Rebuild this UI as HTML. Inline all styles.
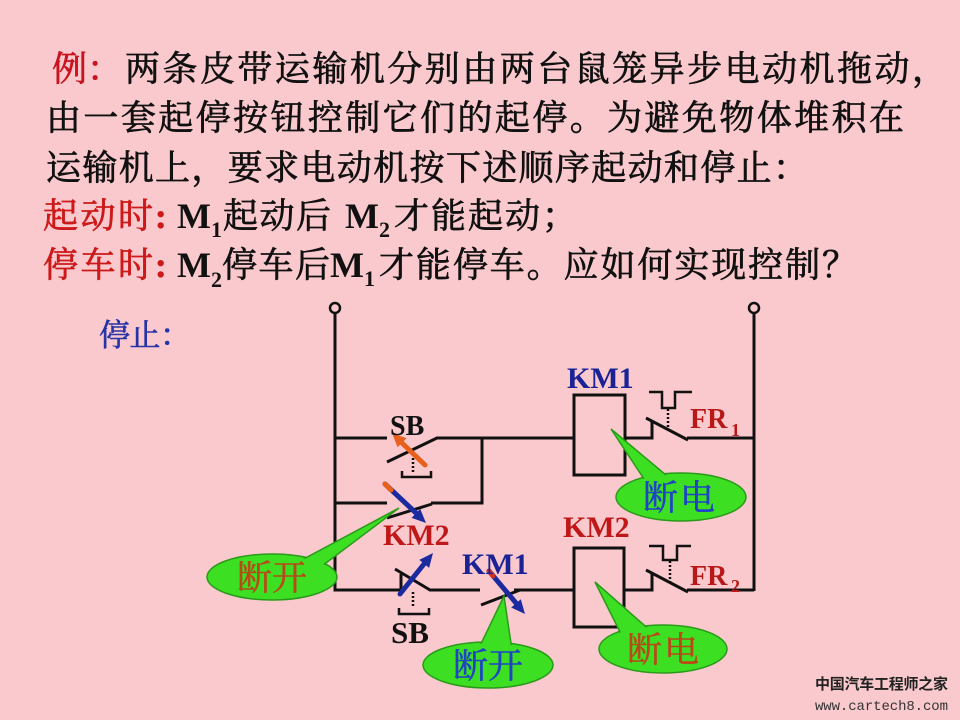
<!DOCTYPE html>
<html><head><meta charset="utf-8"><style>
html,body{margin:0;padding:0;background:#fac9cd;}
svg{display:block}
</style></head><body>
<svg width="960" height="720" viewBox="0 0 960 720" xmlns="http://www.w3.org/2000/svg">
<rect width="960" height="720" fill="#fac9cd"/>

<!-- Title text -->
<g font-family="'Liberation Serif','Noto Serif CJK SC',serif" font-size="35" fill="#111" stroke="#111" stroke-width="0.7">
  <text x="52" y="81" fill="#c8141e" stroke="#c8141e" textLength="70" lengthAdjust="spacing">例：</text>
  <text x="125" y="81" textLength="822" lengthAdjust="spacing">两条皮带运输机分别由两台鼠笼异步电动机拖动，</text>
  <text x="46" y="130" textLength="858" lengthAdjust="spacing">由一套起停按钮控制它们的起停。为避免物体堆积在</text>
  <text x="46" y="180" textLength="762" lengthAdjust="spacing">运输机上，要求电动机按下述顺序起动和停止：</text>

  <text x="43" y="228" fill="#cc1a1a" stroke="#cc1a1a" textLength="110" lengthAdjust="spacing">起动时</text>
  <text x="155" y="228" fill="#cc1a1a" stroke="#cc1a1a" font-weight="bold">:</text>
  <text x="177" y="228" font-size="36" stroke="none" font-weight="bold" font-family="'Liberation Serif',serif">M</text>
  <text x="211" y="237" font-size="22" stroke="none" font-weight="bold" font-family="'Liberation Serif',serif">1</text>
  <text x="223" y="228" textLength="108" lengthAdjust="spacing">起动后</text>
  <text x="345" y="228" font-size="36" stroke="none" font-weight="bold" font-family="'Liberation Serif',serif">M</text>
  <text x="379" y="237" font-size="22" stroke="none" font-weight="bold" font-family="'Liberation Serif',serif">2</text>
  <text x="394" y="228" textLength="183" lengthAdjust="spacing">才能起动；</text>

  <text x="43" y="277" fill="#cc1a1a" stroke="#cc1a1a" textLength="110" lengthAdjust="spacing">停车时</text>
  <text x="155" y="277" fill="#cc1a1a" stroke="#cc1a1a" font-weight="bold">:</text>
  <text x="177" y="277" font-size="36" stroke="none" font-weight="bold" font-family="'Liberation Serif',serif">M</text>
  <text x="211" y="287" font-size="22" stroke="none" font-weight="bold" font-family="'Liberation Serif',serif">2</text>
  <text x="222" y="277" textLength="108" lengthAdjust="spacing">停车后</text>
  <text x="330" y="277" font-size="36" stroke="none" font-weight="bold" font-family="'Liberation Serif',serif">M</text>
  <text x="364" y="286" font-size="22" stroke="none" font-weight="bold" font-family="'Liberation Serif',serif">1</text>
  <text x="379" y="277" textLength="478" lengthAdjust="spacing">才能停车。应如何实现控制？</text>

  <text x="99" y="346" font-size="31" fill="#2533a8" stroke="#2533a8" stroke-width="0.6" textLength="92" lengthAdjust="spacing">停止：</text>
</g>

<!-- Circuit wires -->
<g stroke="#111" stroke-width="3" fill="none">
  <circle cx="335" cy="308" r="5" stroke-width="2.5" fill="#fac9cd"/>
  <circle cx="754" cy="308" r="5" stroke-width="2.5" fill="#fac9cd"/>
  <path d="M335 313 V590 H400"/>
  <path d="M754 313 V591"/>
  <!-- row 1 -->
  <path d="M335 438 H387"/>
  <path d="M387 462 L437 438"/>
  <path d="M436 438 H574"/>
  <path d="M482 438 V503 H431"/>
  <!-- row 2 -->
  <path d="M335 503 H387"/>
  <path d="M387 518 L432 504"/>
  <!-- row 3 -->
  <path d="M401 590 V574"/>
  <path d="M395 569 L430 590"/>
  <path d="M429 590 H480"/>
  <path d="M481 605 L520 590"/>
  <path d="M514 590 H574"/>
  <!-- coils -->
  <rect x="574" y="395" width="51" height="80"/>
  <rect x="574" y="548" width="50" height="79"/>
  <!-- FR1 contact -->
  <path d="M625 438 H652 V422"/>
  <path d="M646 418 L688 440"/>
  <path d="M687 438 H754"/>
  <!-- FR2 contact -->
  <path d="M624 590 H652 V572"/>
  <path d="M646 570 L688 592"/>
  <path d="M687 590 H754"/>
  <!-- FR symbols -->
  <path d="M649 392 H662 V408 H675 V392 H692" stroke-width="2.5"/>
  <path d="M649 546 H663 V560 H677 V546 H691" stroke-width="2.5"/>
  <path d="M668 409 V428" stroke-width="2.5" stroke-dasharray="2 2"/>
  <path d="M670 561 V583" stroke-width="2.5" stroke-dasharray="2 2"/>
  <!-- SB mechanical -->
  <path d="M413 458 V472" stroke-width="2.5" stroke-dasharray="2 2"/>
  <path d="M402 471 V477 H431 V471" stroke-width="2.5"/>
  <path d="M413 592 V608" stroke-width="2.5" stroke-dasharray="2 2"/>
  <path d="M399 608 V614 H429 V608" stroke-width="2.5"/>
</g>

<!-- Arrows -->
<g stroke-linecap="round">
  <line x1="425" y1="465" x2="402" y2="443" stroke="#e8601c" stroke-width="5"/>
  <polygon points="392,433 406.5,438.2 397.6,447.2" fill="#e8601c"/>

  <line x1="385" y1="484" x2="416" y2="513" stroke="#1c2aa0" stroke-width="5"/>
  <line x1="385" y1="484" x2="391" y2="490" stroke="#e8601c" stroke-width="5"/>
  <polygon points="426,523 411.6,517.9 420.2,508.9" fill="#1c2aa0"/>

  <line x1="400" y1="594" x2="424" y2="564" stroke="#1c2aa0" stroke-width="5"/>
  <polygon points="433,553 429.1,567.9 419.3,559.9" fill="#1c2aa0"/>

  <line x1="489" y1="571" x2="516" y2="603" stroke="#1c2aa0" stroke-width="5"/>
  <line x1="489" y1="571" x2="493" y2="576" stroke="#d03020" stroke-width="5"/>
  <polygon points="525,614 511.2,607.5 520.8,599.3" fill="#1c2aa0"/>
</g>

<!-- Labels -->
<g font-family="'Liberation Serif',serif" font-weight="bold">
  <text x="390" y="435" font-size="28" fill="#111">SB</text>
  <text x="383" y="545" font-size="30" fill="#c01818">KM2</text>
  <text x="567" y="388" font-size="30" fill="#1a2296">KM1</text>
  <text x="690" y="428" font-size="28" fill="#b81818">FR</text>
  <text x="731" y="436" font-size="18" fill="#b81818">1</text>
  <text x="563" y="537" font-size="30" fill="#c01818">KM2</text>
  <text x="690" y="585" font-size="28" fill="#b81818">FR</text>
  <text x="731" y="592" font-size="18" fill="#b81818">2</text>
  <text x="462" y="574" font-size="30" fill="#1a2296">KM1</text>
  <text x="391" y="643" font-size="31" fill="#111">SB</text>
</g>

<!-- Callouts -->
<g fill="#3ddf22" stroke="#2a9a1a" stroke-width="1.5">
  <!-- top 断电 -->
  <ellipse cx="681" cy="497" rx="65" ry="24"/>
  <polygon points="611,429 646,482 672,480"/>
  <ellipse cx="681" cy="497" rx="63.5" ry="22.5" stroke="none"/>
  <!-- left 断开 -->
  <ellipse cx="272" cy="577" rx="65" ry="23"/>
  <polygon points="399,508 298,562 322,566"/>
  <ellipse cx="272" cy="577" rx="63.5" ry="21.5" stroke="none"/>
  <!-- bottom 断开 -->
  <ellipse cx="488" cy="665" rx="65" ry="23"/>
  <polygon points="504,596 478,650 512,650"/>
  <ellipse cx="488" cy="665" rx="63.5" ry="21.5" stroke="none"/>
  <!-- bottom 断电 -->
  <ellipse cx="663" cy="649" rx="64" ry="24"/>
  <polygon points="595,582 622,636 652,632"/>
  <ellipse cx="663" cy="649" rx="62.5" ry="22.5" stroke="none"/>
</g>
<g font-family="'Liberation Serif','Noto Serif CJK SC',serif" font-size="35" text-anchor="middle" stroke-width="0.5">
  <text x="680" y="510" fill="#1f45c4" stroke="#1f45c4" letter-spacing="2">断电</text>
  <text x="272" y="590" fill="#b84a18" stroke="#b84a18">断开</text>
  <text x="488" y="678" fill="#1f45c4" stroke="#1f45c4">断开</text>
  <text x="664" y="662" fill="#b84a18" stroke="#b84a18" letter-spacing="2">断电</text>
</g>

<!-- Watermark -->
<text x="815" y="689" font-family="'Liberation Sans','Noto Sans CJK SC',sans-serif" font-size="15" font-weight="bold" fill="#222" textLength="133" lengthAdjust="spacing">中国汽车工程师之家</text>
<text x="815" y="710" font-family="'Liberation Mono',monospace" font-size="14" fill="#333" textLength="133" lengthAdjust="spacing">www.cartech8.com</text>
</svg>
</body></html>
